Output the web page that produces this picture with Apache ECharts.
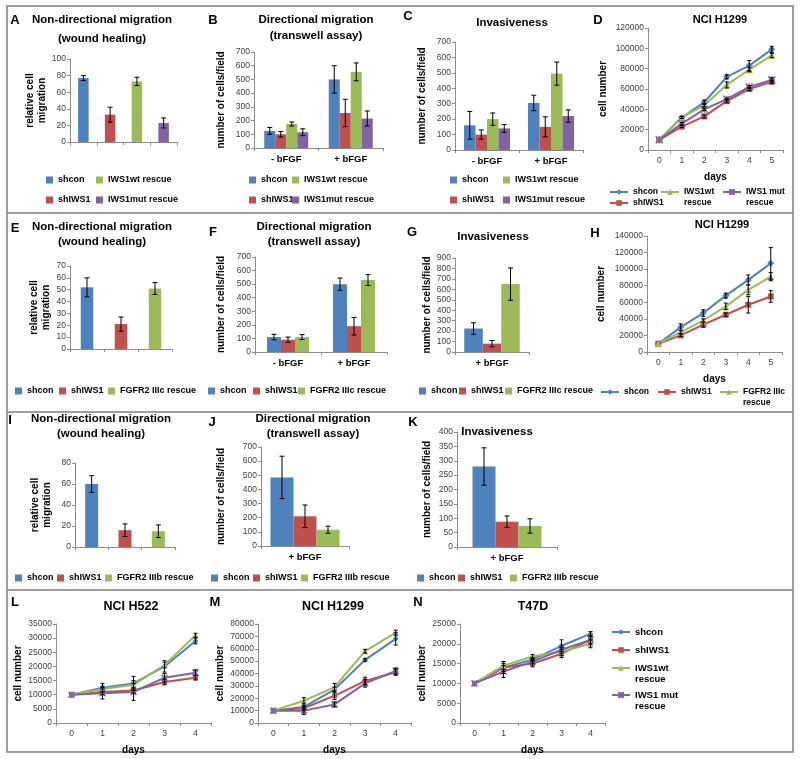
<!DOCTYPE html>
<html>
<head>
<meta charset="utf-8">
<script src="https://cdn.jsdelivr.net/npm/echarts/dist/echarts.min.js"></script>
<style>
  html, body { margin: 0; padding: 0; background: #fff; }
  #chart { width: 800px; height: 759px; }
</style>
</head>
<body>
<div id="chart"></div>
<script>
// ---- data ----
const condTwo = ["- bFGF", "+ bFGF"];
const condPlus = ["+ bFGF"];
const days0to5 = ["0", "1", "2", "3", "4", "5"];
const days0to4 = ["0", "1", "2", "3", "4"];

const namesIWS1 = ["shcon", "shIWS1", "IWS1wt rescue", "IWS1mut rescue"];
const namesIIIc = ["shcon", "shIWS1", "FGFR2 IIIc rescue"];
const namesIIIb = ["shcon", "shIWS1", "FGFR2 IIIb rescue"];
const namesGrowth = ["shcon", "shIWS1", "IWS1wt rescue", "IWS1 mut rescue"];
const namesGrowthIIIc = ["shcon", "shIWS1", "FGFR2 IIIc rescue"];

// A - wound healing
const woundA = [77, 33, 73, 23];
const woundAErr = [3, 9, 5, 6];
// B - transwell (per series: -bFGF, +bFGF)
const transB = [[125, 500], [100, 255], [175, 555], [115, 215]];
const transBErr = [[25, 100], [20, 100], [15, 65], [25, 55]];
// C - invasiveness
const invC = [[160, 305], [100, 150], [200, 495], [140, 220]];
const invCErr = [[90, 50], [30, 65], [40, 75], [25, 40]];
// D - NCI H1299 growth
const growthD = [
  [10000, 32000, 47000, 72000, 83000, 99000],
  [10000, 23000, 33000, 48000, 60000, 67000],
  [10000, 32000, 44000, 64000, 79000, 93000],
  [10000, 26000, 40000, 50000, 62000, 69000]
];
const growthDErr = [
  [0, 1000, 2000, 2000, 5000, 3000],
  [0, 1000, 1500, 1500, 1500, 1500],
  [0, 1000, 1500, 3000, 2000, 2000],
  [0, 1000, 1000, 1000, 1500, 2000]
];
// E
const woundE = [52, 21, 51];
const woundEErr = [8, 6, 5];
// F
const transF = [[110, 500], [90, 190], [110, 530]];
const transFErr = [[20, 45], [20, 65], [18, 40]];
// G
const invG = [225, 80, 650];
const invGErr = [55, 30, 155];
// H
const growthH = [
  [10000, 30000, 47000, 68000, 87000, 107000],
  [10000, 20000, 33000, 45000, 57000, 67000],
  [10000, 24000, 38000, 55000, 75000, 91000]
];
const growthHErr = [
  [0, 4000, 4000, 3000, 6000, 19000],
  [0, 1500, 3000, 2000, 10000, 7000],
  [0, 2000, 2000, 4000, 6000, 5000]
];
// I
const woundI = [60, 16, 15];
const woundIErr = [8, 6, 6];
// J
const transJ = [485, 210, 115];
const transJErr = [150, 80, 25];
// K
const invK = [280, 88, 73];
const invKErr = [65, 20, 25];
// L - NCI H522
const growthL = [
  [10000, 12500, 14000, 20000, 29000],
  [10000, 11000, 11500, 14500, 16000],
  [10000, 12000, 13500, 20500, 31000],
  [10000, 10500, 11000, 16000, 17800]
];
const growthLErr = [
  [0, 1500, 2500, 2000, 1000],
  [0, 1000, 1000, 1000, 800],
  [0, 1000, 1500, 1000, 700],
  [0, 2000, 3000, 1500, 1000]
];
// M - NCI H1299
const growthM = [
  [10000, 13000, 27000, 51000, 68000],
  [10000, 12000, 22000, 34000, 41000],
  [10000, 18000, 29000, 58000, 73000],
  [10000, 10000, 15000, 32000, 42000]
];
const growthMErr = [
  [0, 1500, 2000, 1000, 5000],
  [0, 1500, 3000, 3000, 2500],
  [0, 2500, 3000, 1500, 2000],
  [0, 3000, 2000, 3000, 2500]
];
// N - T47D
const growthN = [
  [10000, 14000, 16000, 19500, 22500],
  [10000, 14000, 15000, 17500, 21000],
  [10000, 14500, 16800, 18000, 20000],
  [10000, 13000, 15500, 18500, 21000]
];
const growthNErr = [
  [0, 1500, 500, 1500, 600],
  [0, 1000, 800, 1000, 1000],
  [0, 1000, 500, 1000, 1000],
  [0, 1500, 500, 1000, 1000]
];

// ---- styling ----
const FONT = "'Liberation Sans', Arial, sans-serif";
const COL = ["#4F81BD", "#C0504D", "#9BBB59", "#8064A2"];
const MUT = "path://M0,0L10,10M10,0L0,10M5,0L5,10";
const SYM = ["diamond", "rect", "triangle", MUT];
const AXC = "#8c8c8c";

const G = { grid: [], xAxis: [], yAxis: [], series: [], legend: [], graphic: [] };

function panel(box, x, y) {
  const gi = G.grid.length;
  G.grid.push({ left: box[0], top: box[1], width: box[2], height: box[3] });
  G.xAxis.push(Object.assign({
    gridIndex: gi, type: "category",
    axisLine: { show: true, lineStyle: { color: AXC } },
    axisTick: { show: true, length: 3, lineStyle: { color: AXC } },
    axisLabel: { fontFamily: FONT, fontSize: 9.5, fontWeight: "bold", color: "#000", margin: 6 },
    nameLocation: "middle",
    nameTextStyle: { fontFamily: FONT, fontSize: 10, fontWeight: "bold", color: "#000" }
  }, x));
  G.yAxis.push(Object.assign({
    gridIndex: gi, type: "value", min: 0,
    axisLine: { show: true, lineStyle: { color: AXC } },
    axisTick: { show: true, length: 3, lineStyle: { color: AXC } },
    splitLine: { show: false },
    axisLabel: { fontFamily: FONT, fontSize: 8.5, color: "#404040", margin: 4, formatter: (v) => String(v) },
    nameLocation: "middle", nameRotate: 90,
    nameTextStyle: { fontFamily: FONT, fontSize: 10, fontWeight: "bold", color: "#000", lineHeight: 12 }
  }, y));
  return gi;
}

function errBar(gi, points, offset, cap) {
  G.series.push({
    type: "custom", xAxisIndex: gi, yAxisIndex: gi, silent: true, z: 5,
    encode: { x: 0, y: 1 },
    data: points,
    renderItem(params, api) {
      const e = api.value(2);
      if (!e) return;
      const x = api.value(0), v = api.value(1);
      const hi = api.coord([x, v + e]);
      const lo = api.coord([x, v - e]);
      const cx = hi[0] + offset;
      const st = { stroke: "#000", lineWidth: 1 };
      return {
        type: "group",
        children: [
          { type: "line", shape: { x1: cx, y1: hi[1], x2: cx, y2: lo[1] }, style: st },
          { type: "line", shape: { x1: cx - cap, y1: hi[1], x2: cx + cap, y2: hi[1] }, style: st },
          { type: "line", shape: { x1: cx - cap, y1: lo[1], x2: cx + cap, y2: lo[1] }, style: st }
        ]
      };
    }
  });
}

// one coloured bar per category (A, E, I)
function singleBars(gi, tag, names, vals, errs, width) {
  names.forEach((nm, k) => {
    G.series.push({
      type: "bar", name: nm + "#" + tag, xAxisIndex: gi, yAxisIndex: gi,
      barWidth: width, barGap: "-100%", itemStyle: { color: COL[k] },
      data: vals.map((v, j) => (j === k ? v : "-"))
    });
    errBar(gi, [[k, vals[k], errs[k]]], 0, 2.5);
  });
}

// grouped bars, vals[series][category]
function groupBars(gi, tag, names, vals, errs, width) {
  const n = names.length;
  names.forEach((nm, k) => {
    G.series.push({
      type: "bar", name: nm + "#" + tag, xAxisIndex: gi, yAxisIndex: gi,
      barWidth: width, barGap: "0%", itemStyle: { color: COL[k] },
      data: vals[k]
    });
    errBar(gi, vals[k].map((v, j) => [j, v, errs[k][j]]), (k - (n - 1) / 2) * width, 2.5);
  });
}

function lines(gi, tag, names, vals, errs, size) {
  names.forEach((nm, k) => {
    G.series.push({
      type: "line", name: nm + "#" + tag, xAxisIndex: gi, yAxisIndex: gi,
      data: vals[k], symbol: SYM[k], symbolSize: k === 1 ? size - 1 : size,
      lineStyle: { color: COL[k], width: 2 },
      itemStyle: { color: COL[k], borderColor: COL[k], borderWidth: k === 3 ? 1.5 : 0 },
      z: 3
    });
    errBar(gi, vals[k].map((v, j) => [j, v, errs[k][j]]), 0, 2);
  });
}

// one legend entry centred on row y; wrapped entries get an empty first line
// so the icon lines up with the first text line
const LH = 11;
function key(name, tag, left, y, kind, wrap, size) {
  const fs = size || 9;
  const l = {
    left, top: wrap ? y - 1.5 * LH : y - LH / 2, padding: 0, itemGap: 0, selectedMode: false,
    data: [name + "#" + tag],
    itemWidth: kind === "bar" ? 7 : 18,
    itemHeight: 7,
    formatter: (n) => {
      const s = n.split("#")[0];
      return wrap ? "\n" + s.replace(" rescue", "\nrescue") : s;
    },
    textStyle: { fontFamily: FONT, fontSize: fs, fontWeight: "bold", color: "#000", lineHeight: LH }
  };
  if (kind === "bar") l.icon = "rect";
  G.legend.push(l);
}

function txt(x, y, s, size) {
  G.graphic.push({
    type: "text", x, y,
    style: { text: s, font: "bold " + size + "px " + FONT, fill: "#000",
      textAlign: "center", textVerticalAlign: "middle", align: "center", verticalAlign: "middle" }
  });
}

const lineX = (data) => ({
  data,
  axisLabel: { fontFamily: FONT, fontSize: 8.5, color: "#404040", margin: 6 },
  name: "days", nameGap: 22
});

// ---- frame ----
G.graphic.push({ type: "rect", shape: { x: 7, y: 6, width: 786, height: 746 },
  style: { fill: "none", stroke: "#7f7f7f", lineWidth: 1.5 } });
[213, 412, 590].forEach((y) => G.graphic.push({ type: "line",
  shape: { x1: 7, y1: y, x2: 793, y2: y }, style: { stroke: "#7f7f7f", lineWidth: 1.5 } }));

const TS = 11.5;

// ---- row 1 ----
let gi = panel([70, 59, 107, 83], { data: ["", "", "", ""], axisLabel: { show: false } },
  { max: 100, interval: 20, name: "relative cell\nmigration", nameGap: 20 });
singleBars(gi, "A", namesIWS1, woundA, woundAErr, 10.5);
txt(15, 20, "A", 13); txt(102, 20, "Non-directional migration", TS); txt(102, 39, "(wound healing)", TS);
key("shcon", "A", 46, 180, "bar"); key("IWS1wt rescue", "A", 96, 180, "bar");
key("shIWS1", "A", 46, 200, "bar"); key("IWS1mut rescue", "A", 96, 200, "bar");

gi = panel([254, 52, 129, 96], { data: condTwo },
  { max: 700, interval: 100, name: "number of cells/field", nameGap: 27 });
groupBars(gi, "B", namesIWS1, transB, transBErr, 11);
txt(213, 20, "B", 13); txt(316, 20, "Directional migration", TS); txt(316, 36, "(transwell assay)", TS);
key("shcon", "B", 249, 180, "bar"); key("IWS1wt rescue", "B", 292, 180, "bar");
key("shIWS1", "B", 249, 200, "bar"); key("IWS1mut rescue", "B", 292, 200, "bar");

gi = panel([455, 42, 128, 108], { data: condTwo },
  { max: 700, interval: 100, name: "number of cells/field", nameGap: 27 });
groupBars(gi, "C", namesIWS1, invC, invCErr, 11.5);
txt(408, 16, "C", 13); txt(512, 23, "Invasiveness", TS);
key("shcon", "C", 450, 180, "bar"); key("IWS1wt rescue", "C", 503, 180, "bar");
key("shIWS1", "C", 450, 200, "bar"); key("IWS1mut rescue", "C", 503, 200, "bar");

gi = panel([648, 28, 135, 122], lineX(days0to5),
  { max: 120000, interval: 20000, name: "cell number", nameGap: 39 });
lines(gi, "D", namesGrowth, growthD, growthDErr, 7);
txt(598, 20, "D", 13); txt(720, 20, "NCI H1299", 11);
key("shcon", "D", 609, 192, "line", false, 8.5); key("IWS1wt rescue", "D", 660, 192, "line", true, 8.5);
key("IWS1 mut rescue", "D", 722, 192, "line", true, 8.5); key("shIWS1", "D", 609, 203, "line", false, 8.5);

// ---- row 2 ----
gi = panel([70, 266, 102, 83], { data: ["", "", ""], axisLabel: { show: false } },
  { max: 70, interval: 10, name: "relative cell\nmigration", nameGap: 17 });
singleBars(gi, "E", namesIIIc, woundE, woundEErr, 12.5);
txt(15, 228, "E", 13); txt(102, 227, "Non-directional migration", TS); txt(102, 242, "(wound healing)", TS);
key("shcon", "E", 15, 391, "bar"); key("shIWS1", "E", 59, 391, "bar"); key("FGFR2 IIIc rescue", "E", 108, 391, "bar");

gi = panel([255, 257, 132, 95], { data: condTwo },
  { max: 700, interval: 100, name: "number of cells/field", nameGap: 28 });
groupBars(gi, "F", namesIIIc, transF, transFErr, 14);
txt(213, 232, "F", 13); txt(314, 227, "Directional migration", TS); txt(314, 242, "(transwell assay)", TS);
key("shcon", "F", 208, 391, "bar"); key("shIWS1", "F", 253, 391, "bar"); key("FGFR2 IIIc rescue", "F", 298, 391, "bar");

gi = panel([455, 258, 74, 94], { data: condPlus },
  { max: 900, interval: 100, name: "number of cells/field", nameGap: 20 });
groupBars(gi, "G", namesIIIc, invG.map((v) => [v]), invGErr.map((v) => [v]), 18.5);
txt(412, 232, "G", 13); txt(493, 237, "Invasiveness", TS);
key("shcon", "G", 419, 391, "bar"); key("shIWS1", "G", 459, 391, "bar"); key("FGFR2 IIIc rescue", "G", 505, 391, "bar");

gi = panel([647, 236, 135, 116], lineX(days0to5),
  { max: 140000, interval: 20000, name: "cell number", nameGap: 40 });
lines(gi, "H", namesGrowthIIIc, growthH, growthHErr, 7);
txt(595, 233, "H", 13); txt(722, 225, "NCI H1299", 11);
key("shcon", "H", 600, 392, "line", false, 8.5); key("shIWS1", "H", 657, 392, "line", false, 8.5);
key("FGFR2 IIIc rescue", "H", 719, 392, "line", true, 8.5);

// ---- row 3 ----
gi = panel([75, 463, 100, 84], { data: ["", "", ""], axisLabel: { show: false } },
  { max: 80, interval: 20, name: "relative cell\nmigration", nameGap: 22 });
singleBars(gi, "I", namesIIIb, woundI, woundIErr, 13);
txt(10, 420, "I", 13); txt(101, 419, "Non-directional migration", TS); txt(101, 434, "(wound healing)", TS);
key("shcon", "I", 15, 578, "bar"); key("shIWS1", "I", 57, 578, "bar"); key("FGFR2 IIIb rescue", "I", 105, 578, "bar");

gi = panel([261, 447, 88, 99], { data: condPlus },
  { max: 700, interval: 100, name: "number of cells/field", nameGap: 34 });
groupBars(gi, "J", namesIIIb, transJ.map((v) => [v]), transJErr.map((v) => [v]), 23);
txt(212, 422, "J", 13); txt(313, 419, "Directional migration", TS); txt(313, 434, "(transwell assay)", TS);
key("shcon", "J", 211, 578, "bar"); key("shIWS1", "J", 253, 578, "bar"); key("FGFR2 IIIb rescue", "J", 301, 578, "bar");

gi = panel([457, 432, 100, 115], { data: condPlus },
  { max: 400, interval: 50, name: "number of cells/field", nameGap: 24 });
groupBars(gi, "K", namesIIIb, invK.map((v) => [v]), invKErr.map((v) => [v]), 23);
txt(413, 422, "K", 13); txt(497, 432, "Invasiveness", TS);
key("shcon", "K", 417, 578, "bar"); key("shIWS1", "K", 458, 578, "bar"); key("FGFR2 IIIb rescue", "K", 510, 578, "bar");

// ---- row 4 ----
gi = panel([56, 624, 155, 99], lineX(days0to4),
  { max: 35000, interval: 5000, name: "cell number", nameGap: 28 });
lines(gi, "L", namesGrowth, growthL, growthLErr, 6);
txt(15, 602, "L", 13); txt(131, 607, "NCI H522", 12.5);

gi = panel([258, 624, 153, 99], lineX(days0to4),
  { max: 80000, interval: 10000, name: "cell number", nameGap: 20 });
lines(gi, "M", namesGrowth, growthM, growthMErr, 6);
txt(215, 602, "M", 13); txt(333, 607, "NCI H1299", 12.5);

gi = panel([460, 624, 145, 99], lineX(days0to4),
  { max: 25000, interval: 5000, name: "cell number", nameGap: 23 });
lines(gi, "N", namesGrowth, growthN, growthNErr, 6);
txt(418, 602, "N", 13); txt(533, 607, "T47D", 12.5);
key("shcon", "N", 611, 632, "line", false, 9.5); key("shIWS1", "N", 611, 650, "line", false, 9.5);
key("IWS1wt rescue", "N", 611, 668, "line", true, 9.5); key("IWS1 mut rescue", "N", 611, 695, "line", true, 9.5);

const chart = echarts.init(document.getElementById("chart"), null, { renderer: "canvas" });
chart.setOption({
  animation: false,
  backgroundColor: "#fff",
  grid: G.grid,
  xAxis: G.xAxis,
  yAxis: G.yAxis,
  legend: G.legend,
  graphic: G.graphic,
  series: G.series
});
</script>
</body>
</html>
